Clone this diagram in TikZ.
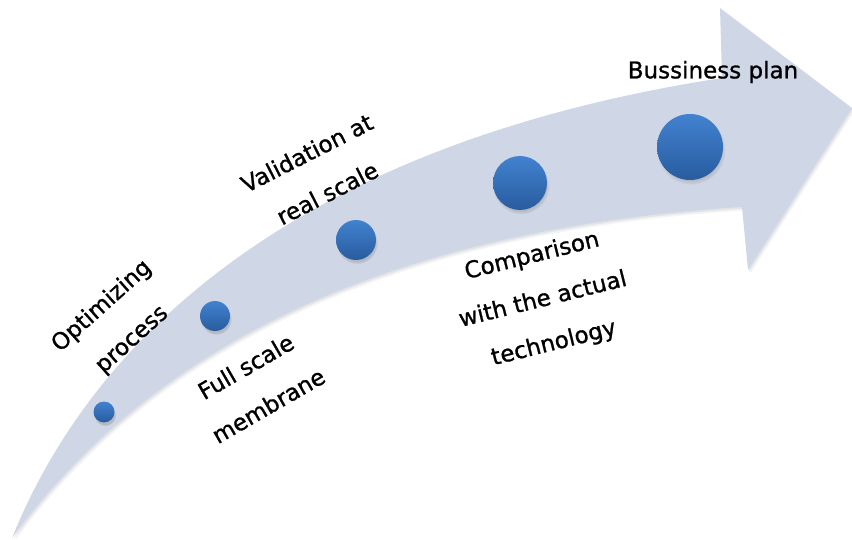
\documentclass[tikz,border=0pt]{standalone}
\usepackage{fontspec}
\setmainfont{DejaVu Sans}
\newfontfamily\lblfont{DejaVu Sans}[FakeBold=1.0]
\usetikzlibrary{shadows}
\definecolor{band}{RGB}{207,215,230}
\definecolor{bandshadow}{RGB}{110,115,125}
\definecolor{balltop}{RGB}{66,130,208}
\definecolor{ballbot}{RGB}{40,92,158}
\tikzset{
  ball/.style={circle, inner sep=0pt, top color=balltop, bottom color=ballbot, draw=none,
    circular drop shadow={shadow xshift=1pt, shadow yshift=-3pt, opacity=.35, shadow scale=1.05}},
  lbl/.style={align=center, text=black, font=\lblfont\fontsize{23}{45}\selectfont, inner sep=0pt}
}
\begin{document}
\begin{tikzpicture}[x=1pt,y=-1pt]
\useasboundingbox (0,0) rectangle (852,540);
\def\arrowpath{(12,538) .. controls (100,320) and (320,140) .. (722,78) -- (720,8) -- (852,108) -- (748,270) -- (742,207) .. controls (380,230) and (150,350) .. (12,538) -- cycle}
% soft shadow of the arrow
\begin{scope}[shift={(2.5,3.5)}]
  \fill[bandshadow, opacity=.08] \arrowpath;
\end{scope}
\begin{scope}[shift={(1.2,1.8)}]
  \fill[bandshadow, opacity=.12] \arrowpath;
\end{scope}
\fill[band] \arrowpath;
% milestones
\node[ball, minimum size=21pt] (c1) at (104,412) {};
\node[ball, minimum size=30pt] (c2) at (215,316) {};
\node[ball, minimum size=40pt] (c3) at (356,240) {};
\node[ball, minimum size=54pt] (c4) at (520,183) {};
\node[ball, minimum size=66pt] (c5) at (690,147) {};
% labels
\node[lbl, rotate=42] (l1) at (117,323) {Optimizing\\process};
\node[lbl, rotate=30] (l2) at (257,386) {Full scale\\membrane};
\node[lbl, rotate=27] (l3) at (317,173) {Validation at\\real scale};
\node[lbl, rotate=14] (l4) at (543,300) {Comparison\\with the actual\\technology};
\node[lbl] (l5) at (713,72) {Bussiness plan};
\end{tikzpicture}
\end{document}
